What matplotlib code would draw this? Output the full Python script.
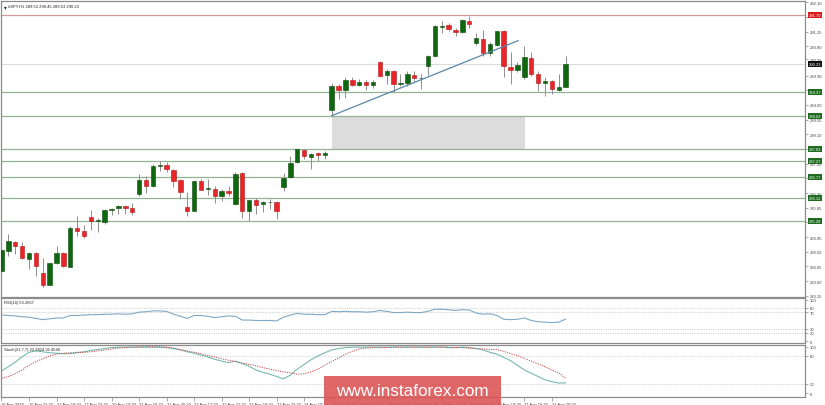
import matplotlib as mpl
mpl.use('Agg')
import matplotlib.pyplot as plt
import matplotlib.transforms as mtransforms
from matplotlib.patches import Rectangle

#
#--- candle data (SPY, H1)
#
opens  = [283.91, 284.52, 284.80, 284.67, 284.27, 284.45, 283.84, 283.49, 284.15, 284.44,
          284.03, 285.21, 285.11, 285.55, 285.44, 285.41, 285.76, 285.81, 285.89, 285.82,
          286.25, 286.67, 286.49, 287.12, 287.14, 286.99, 286.67, 285.86, 285.74, 286.65,
          286.40, 286.40, 286.20, 286.34, 285.95, 286.89, 285.74, 286.08, 285.94, 286.00,
          286.02, 286.46, 286.76, 287.22, 287.59, 287.37, 287.49, 287.44, 288.82, 289.54,
          289.42, 289.74, 289.58, 289.68, 289.58, 290.29, 289.88, 290.00, 289.62, 289.64,
          289.88, 289.78, 290.15, 290.47, 291.36, 291.41, 291.26, 291.18, 291.54, 290.86,
          290.98, 290.54, 290.80, 291.22, 290.13, 290.04, 289.81, 290.40, 289.91, 289.64,
          289.69, 289.43, 289.53]
highs  = [284.57, 285.03, 284.83, 284.79, 284.49, 284.47, 284.29, 284.16, 284.67, 284.48,
          285.29, 285.57, 285.31, 285.77, 285.53, 285.79, 285.82, 285.92, 285.92, 285.97,
          286.86, 286.79, 287.17, 287.27, 287.22, 287.01, 286.71, 286.30, 286.65, 286.71,
          286.71, 286.51, 286.40, 286.51, 286.92, 286.91, 286.08, 286.12, 286.05, 286.10,
          286.03, 286.88, 287.40, 287.64, 287.63, 287.50, 287.54, 287.57, 289.64, 289.61,
          289.83, 289.83, 289.76, 289.74, 289.74, 290.32, 290.06, 290.02, 289.91, 290.01,
          290.01, 289.91, 290.48, 291.41, 291.53, 291.47, 291.31, 291.59, 291.67, 291.16,
          291.26, 290.90, 291.23, 291.26, 290.59, 290.28, 290.76, 290.59, 290.01, 289.81,
          289.73, 289.91, 290.45]
lows   = [283.84, 284.37, 284.42, 284.27, 283.96, 283.76, 283.41, 283.47, 284.12, 284.02,
          284.02, 284.98, 284.90, 285.16, 285.09, 285.34, 285.61, 285.64, 285.64, 285.61,
          286.20, 286.28, 286.47, 286.96, 286.91, 286.46, 286.10, 285.57, 285.73, 286.37,
          286.22, 285.99, 286.05, 286.20, 285.92, 285.51, 285.44, 285.63, 285.71, 285.79,
          285.49, 286.35, 286.75, 287.20, 287.32, 287.01, 287.27, 287.32, 288.64, 289.15,
          289.18, 289.54, 289.54, 289.43, 289.48, 289.81, 289.61, 289.35, 289.56, 289.56,
          289.71, 289.45, 289.88, 290.46, 291.16, 291.23, 291.08, 291.17, 291.31, 290.80,
          290.47, 290.47, 290.78, 289.81, 289.61, 289.97, 289.76, 289.86, 289.40, 289.25,
          289.30, 289.40, 289.53]
closes = [284.54, 284.83, 284.67, 284.29, 284.45, 284.06, 283.48, 284.15, 284.44, 284.05,
          285.21, 285.11, 284.98, 285.44, 285.46, 285.75, 285.80, 285.89, 285.83, 285.69,
          286.68, 286.49, 287.12, 287.14, 287.01, 286.66, 286.30, 285.74, 286.64, 286.38,
          286.43, 286.20, 286.34, 286.27, 286.86, 285.74, 286.07, 285.92, 286.00, 286.01,
          285.74, 286.74, 287.20, 287.63, 287.40, 287.47, 287.44, 287.49, 289.56, 289.43,
          289.73, 289.58, 289.68, 289.59, 289.68, 289.86, 289.99, 289.61, 289.64, 289.90,
          289.78, 289.79, 290.47, 291.37, 291.39, 291.29, 291.18, 291.56, 291.44, 291.00,
          290.54, 290.84, 291.22, 290.15, 290.04, 290.19, 290.42, 289.91, 289.64, 289.71,
          289.45, 289.51, 290.23]

rsi = [63, 62, 61, 59, 58, 55, 52, 54, 56, 56,
       62, 62, 63, 64, 64, 65, 65, 66, 65, 66,
       70, 71, 73, 73, 72, 65, 60, 55, 62, 62,
       60, 57, 59, 61, 60, 51, 51, 50, 50, 50,
       49, 58, 63, 67, 65, 65, 64, 64, 72, 71,
       72, 71, 71, 70, 71, 74, 72, 69, 69, 70,
       69, 69, 72, 77, 77, 76, 74, 76, 75, 68,
       65, 66, 62, 53, 52, 53, 56, 50, 47, 46,
       45, 46, 53.27]
stoch_main = [48, 57, 67, 78, 88, 91, 89, 87, 86, 85,
              85, 87, 89, 92, 94, 96, 98, 99, 99, 99,
              99, 99, 99, 99, 98, 96, 93, 89, 86, 82,
              78, 73, 69, 66, 69, 64, 58, 50, 45, 41,
              36, 31, 39, 52, 62, 72, 80, 87, 93, 96,
              98, 99, 99, 99, 99, 99, 99, 99, 99, 99,
              99, 99, 99, 99, 99, 98, 98, 99, 98, 96,
              93, 88, 84, 77, 70, 60, 50, 43, 36, 29,
              25, 22, 22.28]
stoch_sig = [32, 36, 42, 50, 60, 68, 74, 80, 84, 86,
             87, 88, 88, 89, 91, 93, 95, 97, 98, 99,
             99.5, 100, 100, 99.5, 99, 97, 94, 91, 88, 85,
             81, 78, 74, 71, 68, 65, 62, 59, 55, 52,
             49, 46, 44, 41, 42, 46, 52, 60, 68, 76,
             84, 90, 95, 97, 98, 98, 98, 99, 99, 99,
             99, 99, 99, 99, 99, 99, 98, 98, 97, 96,
             95, 94, 94, 90, 85, 81, 75, 69, 63, 57,
             50, 44, 32.45]

#
#--- levels, trend line, zone, labels
#
green_levels = [289.37, 288.62, 287.63, 287.27, 286.77, 286.12, 285.43]
green_texts  = ['289.37', '288.62', '287.63', '287.27', '286.77', '286.12', '285.28']
red_level    = 291.70
last_price   = 290.23
trend_x = [48, 75.1]
trend_y = [288.64, 290.93]
zone_x  = [48, 76.1]
zone_y  = [287.63, 288.62]

#--- grid labels hidden behind the level boxes are left blank
ytick_vals = [292.10, 291.6525, 291.205, 290.7575, 290.36, 289.8625, 289.415, 288.9675,
              288.52, 288.0725, 287.625, 287.1775, 286.73, 286.2825, 285.835, 285.3875,
              284.94, 284.4925, 284.045, 283.5975, 283.15]
ytick_text = ['292.10', '', '291.25', '290.80', '290.35', '289.90', '', '289.00',
              '288.55', '288.10', '', '287.20', '', '286.30', '285.85', '',
              '284.95', '284.50', '284.05', '283.60', '283.15']
xtick_pos  = list(range(0, 81, 4))
xtick_text = ['16 Aug 2018', '16 Aug 21:30', '17 Aug 18:30', '17 Aug 22:30', '20 Aug 19:30',
              '21 Aug 16:30', '21 Aug 20:30', '22 Aug 17:30', '22 Aug 21:30', '23 Aug 18:30',
              '23 Aug 22:30', '24 Aug 19:30', '27 Aug 16:30', '27 Aug 20:30', '28 Aug 17:30',
              '28 Aug 21:30', '29 Aug 18:30', '29 Aug 22:30', '30 Aug 19:30', '31 Aug 16:30',
              '31 Aug 20:30']

W, H = 825, 406
FS = 3.0
FONT = 'Liberation Sans'
TXT = '#444444'
BORDER = '#8c8c8c'
XLIM = (-0.07, 116.8)

plt.rcParams['font.family'] = FONT

fig = plt.figure(figsize=(W / 100, H / 100), dpi=100)
fig.patch.set_facecolor('white')


def px_axes(x0, y0, x1, y1):
    return fig.add_axes([x0 / W, 1 - y1 / H, (x1 - x0) / W, (y1 - y0) / H])


def style(ax):
    ax.set_facecolor('white')
    for s in ax.spines.values():
        s.set_color(BORDER)
        s.set_linewidth(0.9)
    ax.yaxis.tick_right()
    ax.tick_params(axis='y', labelsize=FS, length=2, width=0.5, colors=BORDER,
                   labelcolor=TXT, pad=1.5)
    ax.set_xlim(*XLIM)


#
#--- main price panel
#
ax = px_axes(1, 2, 805, 297.5)
style(ax)
ax.set_ylim(283.125, 292.14)
ax.set_xticks([])
ax.set_yticks(ytick_vals)
ax.set_yticklabels(ytick_text)

ax.add_patch(Rectangle((zone_x[0], zone_y[0]), zone_x[1] - zone_x[0], zone_y[1] - zone_y[0],
                       facecolor='#dcdcdc', edgecolor='none', zorder=1))

for lv in green_levels:
    ax.axhline(lv, color='#93b493', lw=0.9, zorder=2)
ax.axhline(red_level, color='#d39a9a', lw=0.9, zorder=2)
ax.axhline(last_price, color='#dcdcdc', lw=0.8, zorder=2)

n = len(closes)
idx = list(range(n))
ax.vlines(idx, lows, highs, color='#8e8e8e', lw=0.7, zorder=3)
for i in idx:
    o, c = opens[i], closes[i]
    up = c >= o
    bottom = min(o, c)
    height = max(abs(c - o), 0.012)
    ax.bar(i, height, bottom=bottom, width=0.64,
           color='#0e670e' if up else '#e8262a',
           edgecolor='#0a4a0a' if up else '#b51616', linewidth=0.4, zorder=4)

ax.plot(trend_x, trend_y, color='#5a86a8', lw=0.9, zorder=5)

tr = mtransforms.blended_transform_factory(ax.transAxes, ax.transData)
for lv, t in zip(green_levels, green_texts):
    ax.text(1.0045, lv, t, transform=tr, fontsize=FS, color='white', ha='left', va='center',
            bbox=dict(boxstyle='square,pad=0.25', fc='#1f6b1f', ec='none'), zorder=10, clip_on=False)
ax.text(1.0045, red_level, '%.2f' % red_level, transform=tr, fontsize=FS, color='white',
        ha='left', va='center', bbox=dict(boxstyle='square,pad=0.25', fc='#d81c1c', ec='none'),
        zorder=10, clip_on=False)
ax.text(1.0045, last_price - 0.01, '%.2f' % last_price, transform=tr, fontsize=FS, color='white',
        ha='left', va='center', bbox=dict(boxstyle='square,pad=0.2', fc='#111111', ec='none'),
        zorder=10, clip_on=False)

ax.text(0.0035, 0.988, u'\u25be', transform=ax.transAxes, fontsize=FS + 1, color='#222222',
        va='top', ha='left', family='DejaVu Sans')
ax.text(0.0085, 0.99, '#SPY,H1 289.53 290.45 289.53 290.23', transform=ax.transAxes,
        fontsize=FS, color='#222222', va='top', ha='left')

#
#--- RSI panel
#
ax1 = px_axes(1, 299, 805, 344)
style(ax1)
ax1.set_ylim(-4.1, 104)
ax1.set_xticks([])
ax1.set_yticks([100, 80, 70, 30, 20, 0])
for lv in [80, 70, 30, 20]:
    ax1.axhline(lv, color='#c4c4c4', lw=0.6, ls=(0, (1.2, 1.6)))
ax1.plot(idx, rsi, color='#7fa8c6', lw=0.8)
ax1.text(0.0035, 0.96, 'RSI(14) 53.2667', transform=ax1.transAxes, fontsize=FS,
         color='#222222', va='top', ha='left')

#
#--- Stochastic panel
#
ax2 = px_axes(1, 346, 805, 397.5)
style(ax2)
ax2.set_ylim(-6.9, 103.6)
ax2.set_yticks([100, 80, 20, 0])
for lv in [80, 20]:
    ax2.axhline(lv, color='#c4c4c4', lw=0.6, ls=(0, (1.2, 1.6)))
ax2.plot(idx, stoch_main, color='#78b9b0', lw=0.8)
ax2.plot(idx, stoch_sig, color='#c24a4a', lw=0.7, ls=(0, (1.2, 1.2)))
ax2.text(0.0035, 0.96, 'Stoch(21,7,7) 22.2824 32.4546', transform=ax2.transAxes, fontsize=FS,
         color='#222222', va='top', ha='left')
ax2.set_xticks(xtick_pos)
ax2.set_xticklabels(xtick_text, ha='left')
ax2.tick_params(axis='x', labelsize=FS, length=3, width=0.5, colors=BORDER,
                labelcolor=TXT, pad=0.8)

#
#--- watermark
#
fig.patches.append(Rectangle((324 / W, 0), (501 - 324) / W, (H - 377) / H,
                             transform=fig.transFigure, facecolor='#dd5656', alpha=0.9,
                             edgecolor='none', zorder=20))
fig.text(412.5 / W, 1 - 391.5 / H, 'www.instaforex.com', fontsize=12.3, color='white',
         ha='center', va='center', zorder=21, family='Liberation Sans')

plt.savefig('out.png', dpi=100, facecolor='white')
